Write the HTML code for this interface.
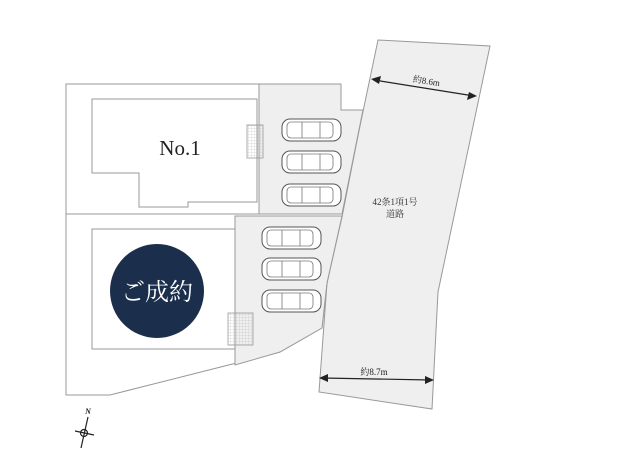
<!DOCTYPE html>
<html><head><meta charset="utf-8"><style>html,body{margin:0;padding:0;background:#fff;}svg{display:block}</style></head>
<body>
<svg width="620" height="465" viewBox="0 0 620 465" xmlns="http://www.w3.org/2000/svg">
<defs>
<pattern id="g" width="3" height="3" patternUnits="userSpaceOnUse"><path d="M3 0V3M0 3H3" stroke="#bbb" stroke-width="0.5" fill="none"/></pattern>
<g id="car">
<rect x="0" y="0" width="59" height="22" rx="8" fill="#fff" stroke="#555" stroke-width="1"/>
<rect x="5" y="3" width="46" height="16" rx="4" fill="none" stroke="#777" stroke-width="0.8"/>
<line x1="20" y1="3" x2="20" y2="19" stroke="#777" stroke-width="0.8"/>
<line x1="38" y1="3" x2="38" y2="19" stroke="#777" stroke-width="0.8"/>
</g>
</defs>
<!-- road -->
<polygon points="378,40 490,46 438,292 432,409 319,392 327,283" fill="#efefef" stroke="#999" stroke-width="1"/>
<!-- lot outline -->
<polygon points="66,84 341,84 341,110 363,110 342,217 327,283 322,328 280,352 110,395 66,395" fill="#fff" stroke="#999" stroke-width="1"/>
<!-- paved upper -->
<polygon points="259,84 341,84 341,110 363,110 342,214 259,214" fill="#efefef" stroke="#999" stroke-width="1"/>
<!-- paved lower -->
<polygon points="235,216 342,216 327,283 322,328 280,352 235,365" fill="#efefef" stroke="#999" stroke-width="1"/>
<line x1="66" y1="214" x2="259" y2="214" stroke="#999" stroke-width="1"/>
<!-- No.1 building -->
<polygon points="92,99 257,99 257,202 188,202 188,207 139,207 139,173 92,173" fill="#fff" stroke="#999" stroke-width="1"/>
<rect x="247" y="125" width="16" height="33" fill="url(#g)" stroke="#999" stroke-width="0.8"/>
<!-- lower building -->
<rect x="92" y="229" width="143" height="120" fill="#fff" stroke="#999" stroke-width="1"/>
<rect x="228" y="313" width="25" height="32" fill="url(#g)" stroke="#999" stroke-width="0.8"/>
<circle cx="157" cy="291" r="47" fill="#1b2f4d"/>
<text x="157" y="300" text-anchor="middle" font-family="Liberation Serif, 'Noto Serif CJK SC', serif" font-size="24" fill="#fff">ご成約</text>
<text x="180" y="155" text-anchor="middle" font-family="Liberation Serif, serif" font-size="21" fill="#222">No.1</text>
<!-- cars -->
<use href="#car" x="282" y="119"/><use href="#car" x="282" y="151"/><use href="#car" x="282" y="184"/>
<use href="#car" x="262" y="227"/><use href="#car" x="262" y="258"/><use href="#car" x="262" y="290"/>
<!-- road labels -->
<text x="395" y="205" text-anchor="middle" font-family="Liberation Serif, 'Noto Serif CJK SC', serif" font-size="9" fill="#333">42条1項1号</text>
<text x="395" y="217" text-anchor="middle" font-family="Liberation Serif, 'Noto Serif CJK SC', serif" font-size="9" fill="#333">道路</text>
<!-- dimension arrows -->
<line x1="374" y1="80" x2="474" y2="96" stroke="#222" stroke-width="1.2"/>
<polygon points="371,79 381,76 379,84" fill="#222"/>
<polygon points="477,96 467,100 469,92" fill="#222"/>
<text x="426" y="84" text-anchor="middle" font-family="Liberation Serif, 'Noto Serif CJK SC', serif" font-size="9" fill="#222" transform="rotate(9 426 84)">約8.6m</text>
<line x1="322" y1="378" x2="431" y2="380" stroke="#222" stroke-width="1.2"/>
<polygon points="319,378 328,374 328,382" fill="#222"/>
<polygon points="434,380 425,376 425,384" fill="#222"/>
<text x="374" y="375" text-anchor="middle" font-family="Liberation Serif, 'Noto Serif CJK SC', serif" font-size="9" fill="#222">約8.7m</text>
<!-- compass -->
<text x="88" y="414" text-anchor="middle" font-family="Liberation Serif, serif" font-size="8" font-style="italic" font-weight="bold" fill="#222">N</text>
<g stroke="#222" stroke-width="1.2" fill="none">
<line x1="88" y1="417" x2="81" y2="448"/>
<line x1="75" y1="431" x2="94" y2="435"/>
<circle cx="84" cy="433" r="3.5"/>
</g>
</svg>
</body></html>
